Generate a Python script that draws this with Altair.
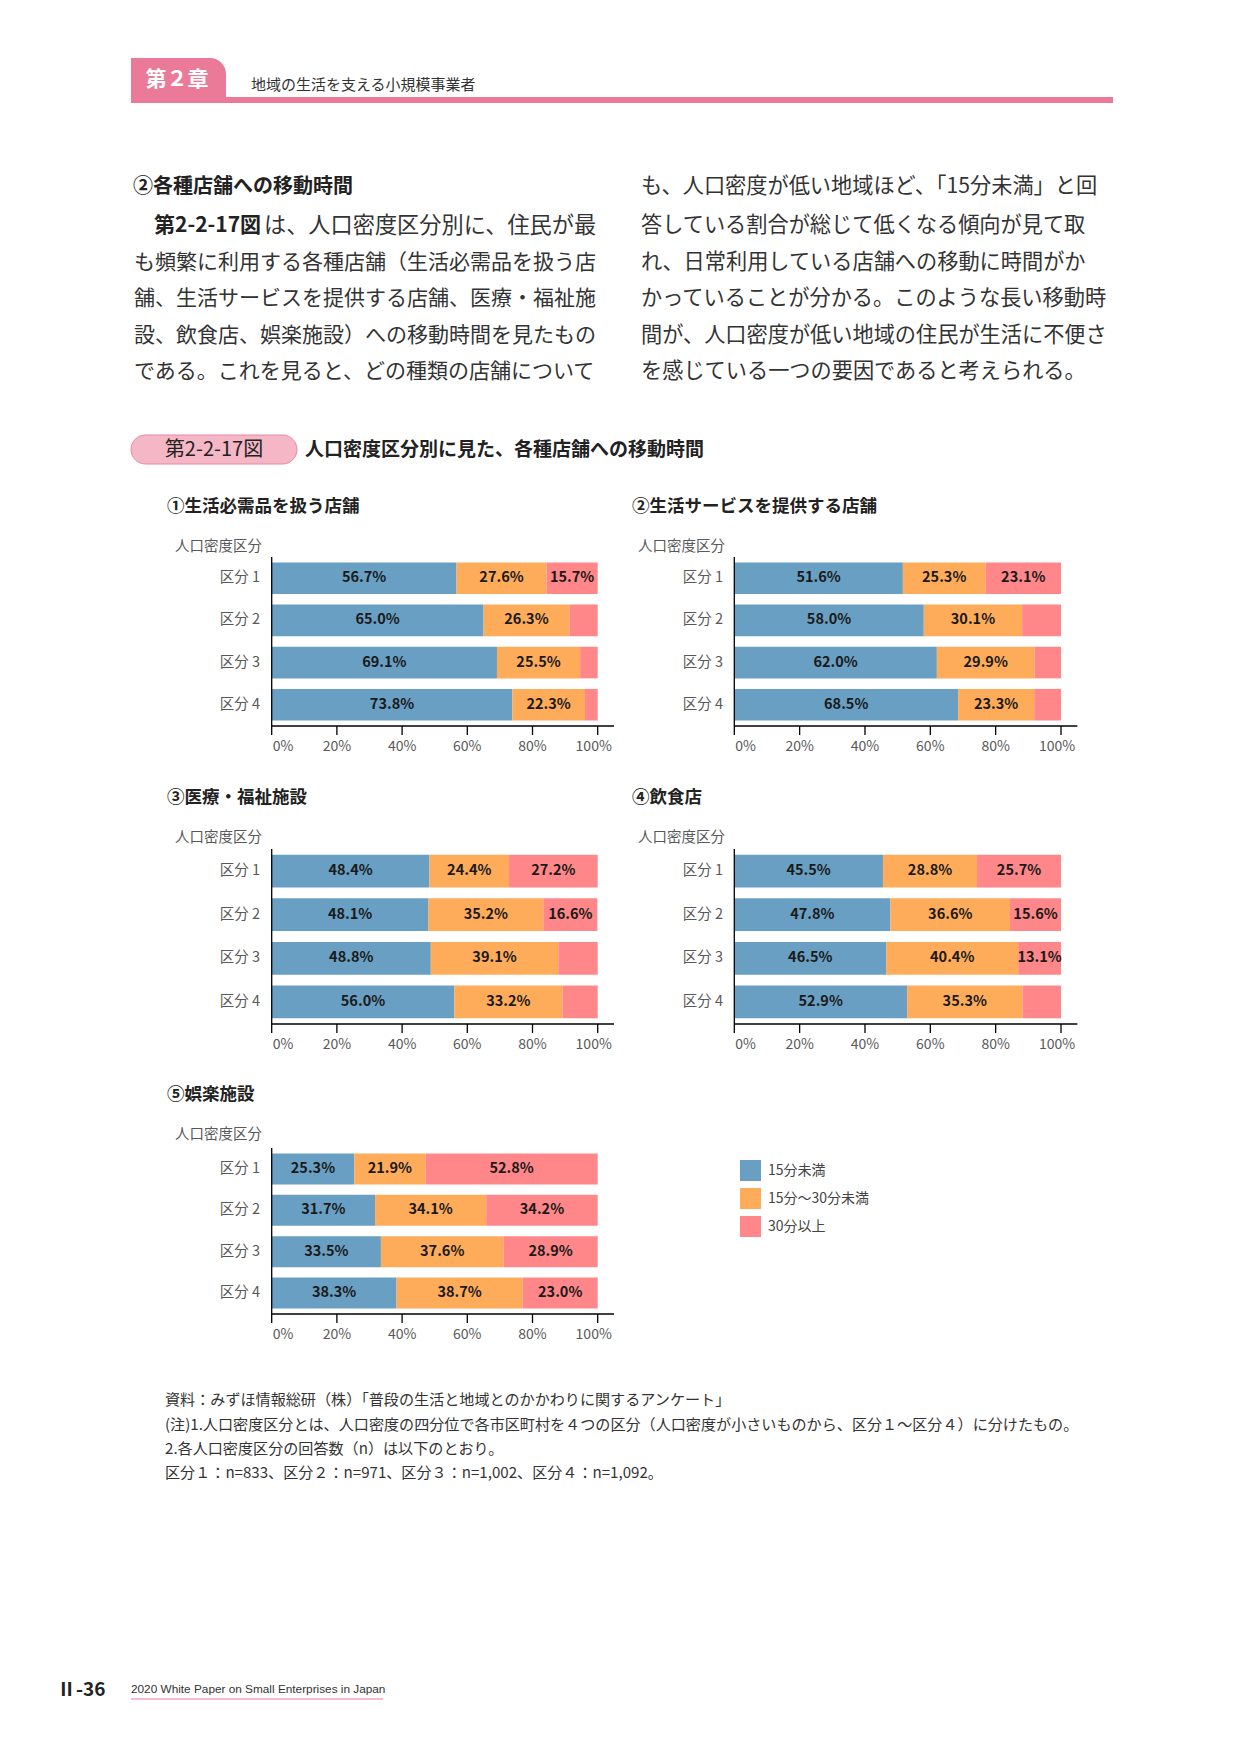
import altair as alt
import pandas as pd

FONT = "Noto Sans CJK JP"
W, H = 1241, 1754

# ---------------- data ----------------
rows = ["区分 1", "区分 2", "区分 3", "区分 4"]
series = ["15分未満", "15分～30分未満", "30分以上"]
colors = ["#689FC3", "#FFAC5A", "#FF8789"]
x_ticks = [0, 20, 40, 60, 80, 100]
x_domain = [0, 105]

p1_title = "①生活必需品を扱う店舗"
p1_a = [56.7, 65.0, 69.1, 73.8]
p1_b = [27.6, 26.3, 25.5, 22.3]
p1_c = [15.7, 8.7, 5.4, 3.9]

p2_title = "②生活サービスを提供する店舗"
p2_a = [51.6, 58.0, 62.0, 68.5]
p2_b = [25.3, 30.1, 29.9, 23.3]
p2_c = [23.1, 11.9, 8.1, 8.2]

p3_title = "③医療・福祉施設"
p3_a = [48.4, 48.1, 48.8, 56.0]
p3_b = [24.4, 35.2, 39.1, 33.2]
p3_c = [27.2, 16.6, 12.1, 10.8]

p4_title = "④飲食店"
p4_a = [45.5, 47.8, 46.5, 52.9]
p4_b = [28.8, 36.6, 40.4, 35.3]
p4_c = [25.7, 15.6, 13.1, 11.8]

p5_title = "⑤娯楽施設"
p5_a = [25.3, 31.7, 33.5, 38.3]
p5_b = [21.9, 34.1, 37.6, 38.7]
p5_c = [52.8, 34.2, 28.9, 23.0]

y_title = "人口密度区分"

header_tab = "第２章"
header_sub = "地域の生活を支える小規模事業者"

para_heading = "②各種店舗への移動時間"
para_left_bold = "第2-2-17図"
para_left_first = "は、人口密度区分別に、住民が最"
para_left = [
    "も頻繁に利用する各種店舗（生活必需品を扱う店",
    "舗、生活サービスを提供する店舗、医療・福祉施",
    "設、飲食店、娯楽施設）への移動時間を見たもの",
    "である。これを見ると、どの種類の店舗について",
]
para_right = [
    "も、人口密度が低い地域ほど、「15分未満」と回",
    "答している割合が総じて低くなる傾向が見て取",
    "れ、日常利用している店舗への移動に時間がか",
    "かっていることが分かる。このような長い移動時",
    "間が、人口密度が低い地域の住民が生活に不便さ",
    "を感じている一つの要因であると考えられる。",
]
fig_tag = "第2-2-17図"
fig_title = "人口密度区分別に見た、各種店舗への移動時間"

notes = [
    "資料：みずほ情報総研（株）「普段の生活と地域とのかかわりに関するアンケート」",
    "(注)1.人口密度区分とは、人口密度の四分位で各市区町村を４つの区分（人口密度が小さいものから、区分１～区分４）に分けたもの。",
    "2.各人口密度区分の回答数（n）は以下のとおり。",
    "区分１：n=833、区分２：n=971、区分３：n=1,002、区分４：n=1,092。",
]
footer_page = "Ⅱ-36"
footer_book = "2020 White Paper on Small Enterprises in Japan"

PINK = "#EB7A98"
TXT = "#333333"
GRAY = "#595959"

one = pd.DataFrame({"a": [0]})


def txt(s, x, y, size, weight="normal", color=TXT, align="left", font=FONT):
    return alt.Chart(pd.DataFrame({"t": [s]})).mark_text(
        align=align, baseline="middle", font=font, fontSize=size,
        fontWeight=weight, color=color
    ).encode(text="t:N", x=alt.value(x), y=alt.value(y))


def box(x1, x2, y1, y2, **kw):
    return alt.Chart(one).mark_rect(**kw).encode(
        x=alt.value(x1), x2=alt.value(x2), y=alt.value(y1), y2=alt.value(y2)
    )


color_scale = alt.Scale(domain=series, range=colors)
legend = alt.Legend(
    orient="none", legendX=740, legendY=1160, title=None,
    symbolType="square", symbolSize=440, symbolStrokeWidth=0, symbolOpacity=1,
    labelFont=FONT, labelFontSize=14, labelColor="#444444", labelOffset=7,
    rowPadding=7, padding=0,
)


def panel(title, a, b, c, x0, x100, ytop, ybot, title_x, title_y, ylab_x, ylab_y, lab_right):
    recs = []
    for k, (s, vals) in enumerate(zip(series, [a, b, c])):
        for r, v in zip(rows, vals):
            recs.append({"row": r, "series": s, "k": k, "value": v})
    df = pd.DataFrame(recs)
    xend = x0 + (x100 - x0) * 1.05
    xs = alt.Scale(domain=x_domain, range=[x0, xend], nice=False, zero=True)
    ys = alt.Scale(domain=rows, range=[ytop, ybot], paddingInner=0.25, paddingOuter=0.13)
    base = alt.Chart(df)
    bars = base.mark_bar().encode(
        x=alt.X("value:Q", stack="zero", scale=xs, axis=None),
        y=alt.Y("row:N", scale=ys, axis=None),
        color=alt.Color("series:N", scale=color_scale, legend=legend),
        order=alt.Order("k:Q"),
    )
    labels = base.transform_window(
        cum="sum(value)", groupby=["row"], sort=[alt.SortField("k", order="ascending")],
        frame=[None, 0]
    ).transform_calculate(
        mid="datum.cum - datum.value / 2",
        lab="format(datum.value, '.1f') + '%'",
    ).transform_filter("datum.value >= 13").mark_text(
        font=FONT, fontSize=14.5, fontWeight="bold", color="#1A1A1A",
        align="center", baseline="middle"
    ).encode(
        x=alt.X("mid:Q", scale=xs, axis=None),
        y=alt.Y("row:N", scale=ys, axis=None),
        text="lab:N",
    )
    # axis lines
    dom = pd.DataFrame({"lo": [x_domain[0]], "hi": [x_domain[1]]})
    xline = alt.Chart(dom).mark_rule(color="#000000", strokeWidth=1.3).encode(
        x=alt.X("lo:Q", scale=xs, axis=None), x2="hi:Q", y=alt.value(ybot))
    yline = alt.Chart(dom).mark_rule(color="#000000", strokeWidth=1.3).encode(
        x=alt.X("lo:Q", scale=xs, axis=None), y=alt.value(ytop), y2=alt.value(ybot))
    tdf = pd.DataFrame({"tick": x_ticks})
    ticks = alt.Chart(tdf).mark_rule(color="#000000", strokeWidth=1.3).encode(
        x=alt.X("tick:Q", scale=xs, axis=None), y=alt.value(ybot), y2=alt.value(ybot + 9))
    tl_base = alt.Chart(tdf).transform_calculate(lab="datum.tick + '%'")
    tstyle = dict(font=FONT, fontSize=14, color=GRAY, baseline="middle")
    tenc = dict(x=alt.X("tick:Q", scale=xs, axis=None), y=alt.value(ybot + 20.5), text="lab:N")
    tick_lab = tl_base.transform_filter("datum.tick > 0 && datum.tick < 100").mark_text(
        align="center", **tstyle).encode(**tenc)
    tick_lab0 = tl_base.transform_filter("datum.tick == 0").mark_text(
        align="left", dx=1, **tstyle).encode(**tenc)
    tick_lab100 = tl_base.transform_filter("datum.tick == 100").mark_text(
        align="center", dx=-4, **tstyle).encode(**tenc)
    cat_lab = alt.Chart(pd.DataFrame({"row": rows})).mark_text(
        font=FONT, fontSize=14.5, color=GRAY, align="right", baseline="middle"
    ).encode(y=alt.Y("row:N", scale=ys, axis=None), x=alt.value(lab_right), text="row:N")
    head = txt(title, title_x, title_y, 17.5, weight="bold", color="#222222")
    ylab = txt(y_title, ylab_x, ylab_y, 14.5, color=GRAY)
    return alt.layer(bars, labels, xline, yline, ticks, tick_lab, tick_lab0, tick_lab100,
                     cat_lab, head, ylab)


L0, L100, LLAB = 271.7, 597.7, 260
R0, R100, RLAB = 734.3, 1061.0, 723

panels = [
    panel(p1_title, p1_a, p1_b, p1_c, L0, L100, 557, 726, 167, 507, 175, 547, LLAB),
    panel(p2_title, p2_a, p2_b, p2_c, R0, R100, 557, 726, 632, 507, 638, 547, RLAB),
    panel(p3_title, p3_a, p3_b, p3_c, L0, L100, 849, 1024, 167, 798, 175, 838, LLAB),
    panel(p4_title, p4_a, p4_b, p4_c, R0, R100, 849, 1024, 632, 798, 638, 838, RLAB),
    panel(p5_title, p5_a, p5_b, p5_c, L0, L100, 1148, 1314, 167, 1095, 175, 1135, LLAB),
]

decor = []
# header
decor.append(box(131, 226, 58, 103, color=PINK, cornerRadiusTopRight=16))
decor.append(box(131, 1113, 97, 103, color=PINK))
decor.append(txt(header_tab, 177, 80, 21, weight="bold", color="#FFFFFF", align="center"))
decor.append(txt(header_sub, 251, 85, 15, color="#333333"))

# paragraph
line_y = [187, 226, 262.5, 299, 335.5, 372]
decor.append(txt(para_heading, 133, line_y[0], 20, weight="bold", color="#222222"))
decor.append(txt(para_left_bold, 154, line_y[1], 21, weight="bold", color="#222222"))
decor.append(txt(para_left_first, 264, line_y[1], 22.2))
for i, s in enumerate(para_left):
    decor.append(txt(s, 134, line_y[i + 2], 21))
for i, s in enumerate(para_right):
    decor.append(txt(s, 641, line_y[i], 21.2))

# figure title
decor.append(alt.Chart(one).mark_rect(
    color="#F5B7C5", stroke="#E8869F", strokeWidth=1, cornerRadius=14.5
).encode(x=alt.value(131), x2=alt.value(297), y=alt.value(435), y2=alt.value(464)))
decor.append(txt(fig_tag, 214, 450, 20, color="#222222", align="center"))
decor.append(txt(fig_title, 305, 450, 19, weight="bold", color="#222222"))

# notes
note_y = [1400, 1424.5, 1448.5, 1472.5]
for s, y in zip(notes, note_y):
    decor.append(txt(s, 165, y, 15.1, color="#333333"))

# footer
decor.append(txt(footer_page, 57, 1690, 19, weight="bold", color="#222222"))
decor.append(txt(footer_book, 131, 1689, 11.8, color="#333333", font="Liberation Sans"))
decor.append(alt.Chart(one).mark_rule(color=PINK, strokeWidth=1.2).encode(
    x=alt.value(131), x2=alt.value(383), y=alt.value(1699)))

chart = alt.layer(*decor, *panels).resolve_scale(
    x="independent", y="independent"
).properties(
    width=W, height=H, padding=0,
    autosize=alt.AutoSizeParams(type="none"),
    background="white",
).configure_view(stroke=None)

chart.save("out.html", embed_options={"renderer": "svg", "actions": False})
